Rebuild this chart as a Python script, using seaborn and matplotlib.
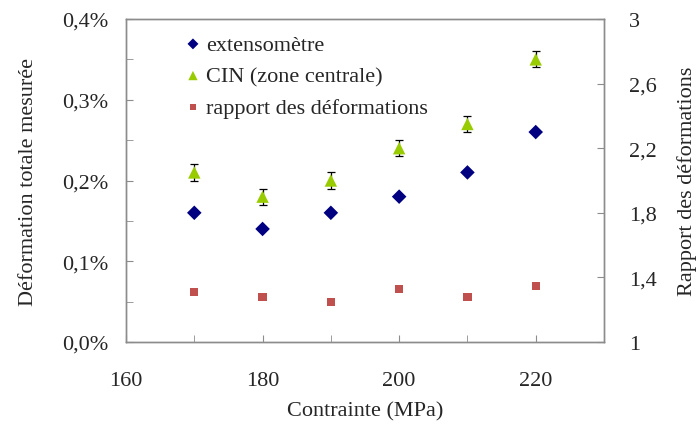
import numpy as np
import pandas as pd
import seaborn as sns
import matplotlib.pyplot as plt
from matplotlib.ticker import FuncFormatter, MultipleLocator

# data
contrainte = [170, 180, 190, 200, 210, 220]
extenso = [0.16, 0.14, 0.16, 0.18, 0.21, 0.26]       # %
cin = [0.21, 0.18, 0.20, 0.24, 0.27, 0.35]           # %
cin_err = [0.01, 0.01, 0.01, 0.01, 0.01, 0.01]       # %
rapport = [1.31, 1.28, 1.25, 1.33, 1.28, 1.345]
rapport_ticks = [1, 1.4, 1.8, 2.2, 2.6, 3]

sns.set_style("white")
plt.rcParams['font.family'] = ['Liberation Serif', 'DejaVu Serif']
plt.rcParams['font.size'] = 16

df = pd.DataFrame({'Contrainte': contrainte, 'extenso': extenso,
                   'cin': cin, 'rapport': rapport})

fig, ax = plt.subplots(figsize=(7, 4.27), dpi=100)
fig.subplots_adjust(left=126/700, right=604/700, top=1-20/427, bottom=1-343/427)
ax2 = ax.twinx()

ax.errorbar(contrainte, cin, yerr=cin_err, fmt='none', ecolor='black',
            elinewidth=0.9, capsize=3, capthick=0.9, zorder=2)
sns.scatterplot(data=df, x='Contrainte', y='extenso', ax=ax, marker='D', s=55,
                color='#000080', edgecolor='none', label='extensomètre', zorder=3)
sns.scatterplot(data=df, x='Contrainte', y='cin', ax=ax, marker='^', s=80,
                color='#99CC00', edgecolor='none', label='CIN (zone centrale)', zorder=3)
sns.scatterplot(data=df, x='Contrainte', y='rapport', ax=ax2, marker='s', s=35,
                color='#C0504D', edgecolor='none', label='rapport des déformations', zorder=3)

ax.set_xlim(160, 230)
ax.set_ylim(0, 0.4)
ax2.set_ylim(1, 3)

ax.xaxis.set_major_locator(MultipleLocator(20))
ax.xaxis.set_minor_locator(MultipleLocator(10))
ax.yaxis.set_major_locator(MultipleLocator(0.1))
ax.yaxis.set_minor_locator(MultipleLocator(0.05))
ax2.set_yticks(rapport_ticks)

ax.yaxis.set_major_formatter(FuncFormatter(lambda v, p: f"{v:.1f}%".replace('.', ',')))
ax2.yaxis.set_major_formatter(
    FuncFormatter(lambda v, p: f"{v:g}".replace('.', ',')))

frame = '#8c8c8c'
for a in (ax, ax2):
    for sp in a.spines.values():
        sp.set_color(frame)
        sp.set_linewidth(1.0)
ax.tick_params(axis='x', which='both', direction='in', length=5, color=frame,
               pad=21, bottom=True)
ax.tick_params(axis='y', which='both', direction='in', length=5, color=frame,
               pad=13, left=True)
ax2.tick_params(axis='y', which='both', direction='in', length=5, color=frame,
                pad=18, right=True)

ax.set_xlabel('Contrainte (MPa)', labelpad=8)
ax.set_ylabel('Déformation totale mesurée', labelpad=17)
ax2.set_ylabel('Rapport des déformations', labelpad=15)

h1, l1 = ax.get_legend_handles_labels()
h2, l2 = ax2.get_legend_handles_labels()
ax.get_legend().remove()
ax2.get_legend().remove()
ax2.legend(h1 + h2, l1 + l2, loc='upper left', bbox_to_anchor=(0.075, 1.015),
           frameon=False, handletextpad=0.1, labelspacing=0.5,
           markerscale=0.75, handlelength=1.0)

fig.savefig('out.png', dpi=100)
